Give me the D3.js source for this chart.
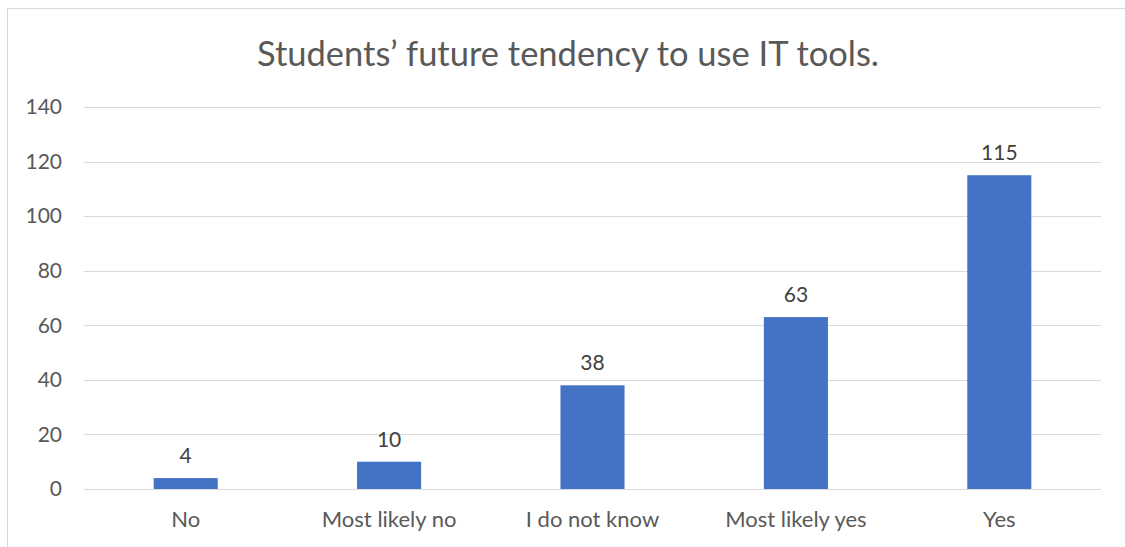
<!DOCTYPE html>
<html>
<head>
<meta charset="utf-8">
<script src="https://cdn.jsdelivr.net/npm/d3@7"></script>
<style>
  html, body { margin: 0; padding: 0; background: #fff; }
  svg { display: block; font-family: Lato, "Open Sans", sans-serif; }
</style>
</head>
<body>
<svg id="chart" width="1125" height="547"></svg>
<script>
const categories = ["No", "Most likely no", "I do not know", "Most likely yes", "Yes"];
const values = [4, 10, 38, 63, 115];
const yTicks = [0, 20, 40, 60, 80, 100, 120, 140];
const title = "Students\u2019 future tendency to use IT tools.";

const svg = d3.select("#chart");
const W = 1125, H = 547;
const margin = { left: 84, right: 24, top: 107, bottom: 58 };
const fontFamily = "Lato, 'Open Sans', sans-serif";

// chart frame (runs off the right and bottom edges)
svg.append("rect")
  .attr("x", 7.5).attr("y", 8.5)
  .attr("width", W + 20).attr("height", H + 20)
  .attr("fill", "#fff").attr("stroke", "#d9d9d9").attr("stroke-width", 1);

const x = d3.scaleBand()
  .domain(categories)
  .range([margin.left, W - margin.right])
  .paddingInner(0.685).paddingOuter(0.3425);

const y = d3.scaleLinear()
  .domain([0, 140])
  .range([H - margin.bottom, margin.top]);

// gridlines
svg.append("g")
  .selectAll("line")
  .data(yTicks)
  .join("line")
  .attr("x1", margin.left).attr("x2", W - margin.right)
  .attr("y1", d => Math.round(y(d)) + 0.5).attr("y2", d => Math.round(y(d)) + 0.5)
  .attr("stroke", "#d9d9d9").attr("stroke-width", 1);

// y axis labels
const yAxis = d3.axisLeft(y).tickValues(yTicks).tickSize(0).tickPadding(22);
const gy = svg.append("g").attr("transform", `translate(${margin.left},0)`).call(yAxis);
gy.select(".domain").remove();
gy.selectAll("text")
  .attr("font-size", 21).attr("fill", "#595959")
  .attr("font-family", fontFamily);

// x axis labels
const xAxis = d3.axisBottom(x).tickSize(0).tickPadding(22);
const gx = svg.append("g").attr("transform", `translate(0,${H - margin.bottom})`).call(xAxis);
gx.select(".domain").remove();
gx.selectAll("text")
  .attr("font-size", 22).attr("fill", "#595959")
  .attr("font-family", fontFamily);

// bars
svg.append("g")
  .selectAll("rect")
  .data(values)
  .join("rect")
  .attr("x", (d, i) => x(categories[i]))
  .attr("width", x.bandwidth())
  .attr("y", d => y(d))
  .attr("height", d => y(0) - y(d))
  .attr("fill", "#4472c4");

// value labels
svg.append("g")
  .selectAll("text")
  .data(values)
  .join("text")
  .attr("x", (d, i) => x(categories[i]) + x.bandwidth() / 2)
  .attr("y", d => y(d) - 15)
  .attr("text-anchor", "middle")
  .attr("font-size", 21).attr("fill", "#404040")
  .text(d => d);

// title
svg.append("text")
  .attr("x", 568).attr("y", 66)
  .attr("text-anchor", "middle")
  .attr("font-size", 34.5).attr("fill", "#595959")
  .text(title);
</script>
</body>
</html>
